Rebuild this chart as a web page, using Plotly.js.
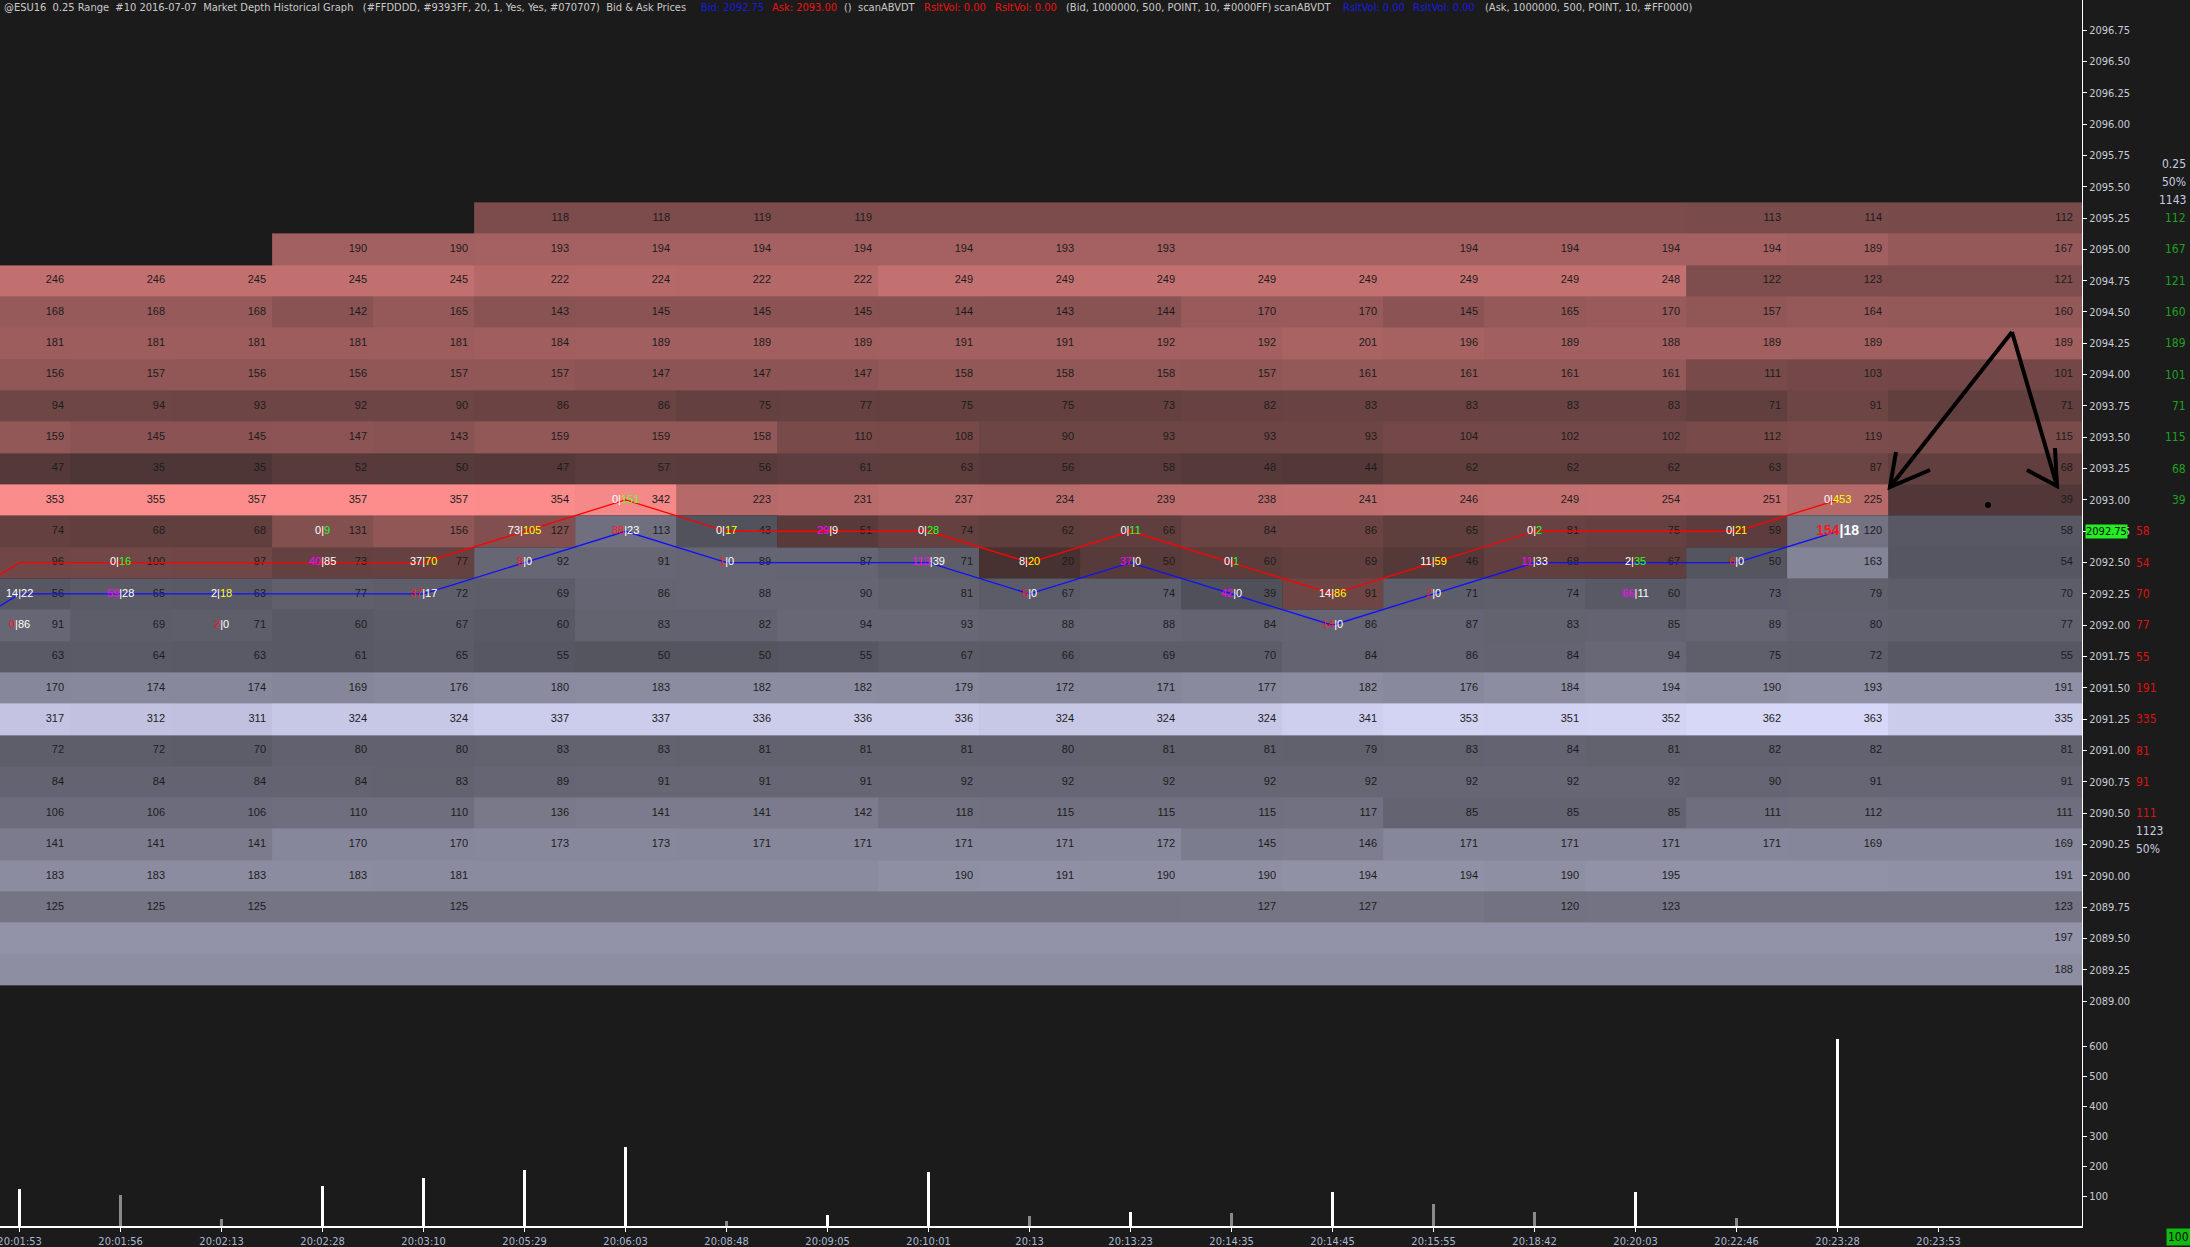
<!DOCTYPE html>
<html><head><meta charset="utf-8">
<script src="https://cdn.plot.ly/plotly-3.0.1.min.js"></script>
<style>html,body{margin:0;padding:0;background:#1b1b1b;overflow:hidden}</style>
</head><body><div id="chart" style="width:2190px;height:1247px"></div>
<script>
// ---------------- DATA ----------------
const timeLabels = ["20:01:53","20:01:56","20:02:13","20:02:28","20:03:10","20:05:29","20:06:03","20:08:48","20:09:05","20:10:01","20:13","20:13:23","20:14:35","20:14:45","20:15:55","20:18:42","20:20:03","20:22:46","20:23:28","20:23:53"];

// price levels, top to bottom
const priceLevels = [2095.25,2095.00,2094.75,2094.50,2094.25,2094.00,2093.75,2093.50,2093.25,2093.00,2092.75,2092.50,2092.25,2092.00,2091.75,2091.50,2091.25,2091.00,2090.75,2090.50,2090.25,2090.00,2089.75,2089.50,2089.25];

// first column where each price level has a depth cell
const rowStartCol = [5,3,0,0,0,0,0,0,0,0,0,0,0,0,0,0,0,0,0,0,0,0,0,0,0];

// market depth per level: 19 bars + current column; null = no number printed
const d209525 = [null,null,null,null,null,118,118,119,119,null,null,null,null,null,null,null,null,113,114,112];
const d209500 = [null,null,null,190,190,193,194,194,194,194,193,193,null,null,194,194,194,194,189,167];
const d209475 = [246,246,245,245,245,222,224,222,222,249,249,249,249,249,249,249,248,122,123,121];
const d209450 = [168,168,168,142,165,143,145,145,145,144,143,144,170,170,145,165,170,157,164,160];
const d209425 = [181,181,181,181,181,184,189,189,189,191,191,192,192,201,196,189,188,189,189,189];
const d209400 = [156,157,156,156,157,157,147,147,147,158,158,158,157,161,161,161,161,111,103,101];
const d209375 = [94,94,93,92,90,86,86,75,77,75,75,73,82,83,83,83,83,71,91,71];
const d209350 = [159,145,145,147,143,159,159,158,110,108,90,93,93,93,104,102,102,112,119,115];
const d209325 = [47,35,35,52,50,47,57,56,61,63,56,58,48,44,62,62,62,63,87,68];
const d209300 = [353,355,357,357,357,354,342,223,231,237,234,239,238,241,246,249,254,251,225,39];
const d209275 = [74,68,68,131,156,127,113,43,51,74,62,66,84,86,65,81,75,59,120,58];
const d209250 = [96,100,97,73,77,92,91,89,87,71,20,50,60,69,46,68,67,50,163,54];
const d209225 = [56,65,63,77,72,69,86,88,90,81,67,74,39,91,71,74,60,73,79,70];
const d209200 = [91,69,71,60,67,60,83,82,94,93,88,88,84,86,87,83,85,89,80,77];
const d209175 = [63,64,63,61,65,55,50,50,55,67,66,69,70,84,86,84,94,75,72,55];
const d209150 = [170,174,174,169,176,180,183,182,182,179,172,171,177,182,176,184,194,190,193,191];
const d209125 = [317,312,311,324,324,337,337,336,336,336,324,324,324,341,353,351,352,362,363,335];
const d209100 = [72,72,70,80,80,83,83,81,81,81,80,81,81,79,83,84,81,82,82,81];
const d209075 = [84,84,84,84,83,89,91,91,91,92,92,92,92,92,92,92,92,90,91,91];
const d209050 = [106,106,106,110,110,136,141,141,142,118,115,115,115,117,85,85,85,111,112,111];
const d209025 = [141,141,141,170,170,173,173,171,171,171,171,172,145,146,171,171,171,171,169,169];
const d209000 = [183,183,183,183,181,null,null,null,null,190,191,190,190,194,194,190,195,null,null,191];
const d208975 = [125,125,125,null,125,null,null,null,null,null,null,null,127,127,null,120,123,null,null,123];
const d208950 = [null,null,null,null,null,null,null,null,null,null,null,null,null,null,null,null,null,null,null,197];
const d208925 = [null,null,null,null,null,null,null,null,null,null,null,null,null,null,null,null,null,null,null,188];
const depthRows = [d209525,d209500,d209475,d209450,d209425,d209400,d209375,d209350,d209325,d209300,d209275,d209250,d209225,d209200,d209175,d209150,d209125,d209100,d209075,d209050,d209025,d209000,d208975,d208950,d208925];

// lowest price level on the ask side, per column
const askLowest = [2092.50,2092.50,2092.50,2092.50,2092.50,2092.75,2093.00,2093.00,2092.75,2092.75,2092.50,2092.50,2092.50,2092.25,2092.50,2092.50,2092.50,2092.75,2093.00,2093.00];

// ask / bid price lines (column -1 is the bar before the first visible one)
const lineCols = [-1,0,1,2,3,4,5,6,7,8,9,10,11,12,13,14,15,16,17,18];
const askPrices = [2092.00,2092.50,2092.50,2092.50,2092.50,2092.50,2092.75,2093.00,2092.75,2092.75,2092.75,2092.50,2092.75,2092.50,2092.25,2092.50,2092.75,2092.75,2092.75,2093.00];
const bidPrices = [2091.75,2092.25,2092.25,2092.25,2092.25,2092.25,2092.50,2092.75,2092.50,2092.50,2092.50,2092.25,2092.50,2092.25,2092.00,2092.25,2092.50,2092.50,2092.50,2092.75];

// volume per bar and its colour class
const volumes = [122,103,22,134,161,186,262,18,38,180,33,48,43,114,72,46,114,27,625];
const volumeBright = [1,0,0,1,1,1,1,0,1,1,0,1,0,1,0,0,1,0,1];

// traded volume at price: bid volume | ask volume
const tradeCol   = [0,0,1,1,2,2,3,3,4,4,5,5,6,6,7,7,8,9,9,10,10,11,11,12,12,13,13,14,14,15,15,16,16,17,17,18,18];
const tradePrice = [2092.25,2092.00,2092.50,2092.25,2092.25,2092.00,2092.75,2092.50,2092.50,2092.25,2092.75,2092.50,2093.00,2092.75,2092.75,2092.50,2092.75,2092.75,2092.50,2092.50,2092.25,2092.75,2092.50,2092.50,2092.25,2092.25,2092.00,2092.50,2092.25,2092.75,2092.50,2092.50,2092.25,2092.75,2092.50,2093.00,2092.75];
const tradeBidVol = [14,0,0,59,2,2,0,40,37,37,73,8,0,88,0,1,29,0,113,8,5,0,37,0,42,14,14,11,2,0,11,2,66,0,6,0,154];
const tradeAskVol = [22,86,16,28,18,0,9,85,70,17,105,0,151,23,17,0,9,28,39,20,0,11,0,1,0,86,0,59,0,2,33,35,11,21,0,453,18];
const tradeBidColor = ["#ffffff","#ff1a1a","#ffffff","#ff00ff","#ffffff","#ff1a1a","#ffffff","#ff00ff","#ffffff","#ff1a1a","#ffffff","#ff1a1a","#ffffff","#ff1a1a","#ffffff","#ff1a1a","#ff00ff","#ffffff","#ff00ff","#ffffff","#ff1a1a","#ffffff","#ff00ff","#ffffff","#ff00ff","#ffffff","#ff1a1a","#ffffff","#ff1a1a","#ffffff","#ff00ff","#ffffff","#ff00ff","#ffffff","#ff1a1a","#ffffff","#ff1a1a"];
const tradeAskColor = ["#ffffff","#ffffff","#22ff22","#ffffff","#ffff00","#ffffff","#22ff22","#ffffff","#ffff00","#ffffff","#ffff00","#ffffff","#66ff22","#ffffff","#ffff00","#ffffff","#ffffff","#22ff22","#ffffff","#ffff00","#ffffff","#22ff22","#ffffff","#22ff22","#ffffff","#ffff00","#ffffff","#ffff00","#ffffff","#22ff22","#ffffff","#22ff22","#ffffff","#ffff00","#ffffff","#ffff00","#ffffff"];

const tickSize = 0.25;
const currentBid = 2092.75, currentAsk = 2093.00;
const domLevels = 10;

// ---------------- LAYOUT CONSTANTS ----------------
const W = 2190, H = 1247;
const M = {l:0, r:108, t:0, b:21};
const PW = W - M.l - M.r, PH = H - M.t - M.b;
const nCols = timeLabels.length;
const xRange = [-0.194, 20.42];
const pxX = px => px / PW;            // paper x from pixel
const pxY = py => 1 - py / PH;        // paper y from pixel
const condensed = '"DejaVu Sans Condensed","Liberation Sans Narrow","Roboto Condensed","Open Sans Condensed","Liberation Sans",sans-serif';
const cellFont = '"Liberation Sans","DejaVu Sans",sans-serif';

// ---------------- BUILD ----------------
const yAsc = priceLevels.slice().reverse();
const zAsk = [], zBid = [];
const cellX = [], cellY = [], cellT = [];
yAsc.forEach((p) => {
  const r = priceLevels.indexOf(p);
  const row = depthRows[r];
  const ra = [], rb = [];
  for (let c = 0; c < nCols; c++) {
    let v = null;
    if (c >= rowStartCol[r]) {
      v = row[c];
      if (v === null) { // unprinted level: shade with nearest printed depth (left, then right)
        for (let k = c - 1; k >= rowStartCol[r] && v === null; k--) v = row[k];
        for (let k = c + 1; k < nCols && v === null; k++) v = row[k];
      }
    }
    const isAsk = p >= askLowest[c];
    ra.push(isAsk ? v : null);
    rb.push(isAsk ? null : v);
    if (row[c] !== null && c >= rowStartCol[r]) {
      cellX.push(c === nCols - 1 ? 20.33 : c + 0.44);
      cellY.push(p);
      cellT.push(String(row[c]));
    }
  }
  zAsk.push(ra); zBid.push(rb);
});
const xEdges = [];
for (let c = 0; c < nCols; c++) xEdges.push(c - 0.5);
xEdges.push(21);

const traces = [];
const hmCommon = {type:'heatmap', x:xEdges, y:yAsc, zsmooth:false, showscale:false, hoverinfo:'skip', xaxis:'x', yaxis:'y'};
traces.push(Object.assign({}, hmCommon, {z:zAsk, zmin:0, zmax:360, colorscale:[[0,'rgb(60,44,44)'],[1,'rgb(255,142,142)']]}));
traces.push(Object.assign({}, hmCommon, {z:zBid, zmin:0, zmax:370, colorscale:[[0,'rgb(64,64,72)'],[1,'rgb(218,218,252)']]}));

traces.push({type:'scatter', mode:'text', x:cellX, y:cellY, text:cellT, textposition:'middle left',
  textfont:{family:cellFont, size:11, color:'#1c1c1c'}, hoverinfo:'skip', xaxis:'x', yaxis:'y', cliponaxis:false});

traces.push({type:'scatter', mode:'lines', x:lineCols, y:askPrices, line:{color:'#ff0000', width:1.3}, hoverinfo:'skip', xaxis:'x', yaxis:'y'});
traces.push({type:'scatter', mode:'lines', x:lineCols, y:bidPrices, line:{color:'#1010ff', width:1.3}, hoverinfo:'skip', xaxis:'x', yaxis:'y'});

const tX = [], tY = [], tT = [], lastCol = Math.max(...tradeCol);
const bX = [], bY = [], bT = [];
tradeCol.forEach((c, i) => {
  const s = '<span style="color:' + tradeBidColor[i] + '">' + tradeBidVol[i] + '</span><span style="color:#ffffff">|</span><span style="color:' + tradeAskColor[i] + '">' + tradeAskVol[i] + '</span>';
  if (c === lastCol && tradePrice[i] === currentBid) { bX.push(c); bY.push(tradePrice[i]); bT.push('<b>' + s + '</b>'); }
  else { tX.push(c); tY.push(tradePrice[i]); tT.push(s); }
});
traces.push({type:'scatter', mode:'text', x:tX, y:tY, text:tT, textposition:'middle center',
  textfont:{family:cellFont, size:11, color:'#ffffff'}, hoverinfo:'skip', xaxis:'x', yaxis:'y'});
traces.push({type:'scatter', mode:'text', x:bX, y:bY, text:bT, textposition:'middle center',
  textfont:{family:cellFont, size:14, color:'#ffffff'}, hoverinfo:'skip', xaxis:'x', yaxis:'y'});

traces.push({type:'bar', x:volumes.map((v,i)=>i), y:volumes, width:0.022,
  marker:{color:volumeBright.map(b => b ? '#ffffff' : '#8a8a8a'), line:{width:0}},
  hoverinfo:'skip', xaxis:'x', yaxis:'y2'});

// ---------------- ANNOTATIONS ----------------
const ann = [];
const hdrFont = (c) => ({family:condensed, size:11, color:c});
const grey = '#c9c9c9';
const headerParts = [
  [2,   '@ESU16\u00a0\u00a00.25 Range\u00a0\u00a0#10 2016-07-07\u00a0\u00a0Market Depth Historical Graph\u00a0\u00a0\u00a0(#FFDDDD, #9393FF, 20, 1, Yes, Yes, #070707)\u00a0\u00a0Bid & Ask Prices', grey],
  [699, 'Bid: ' + currentBid.toFixed(2), '#1a1ae0'],
  [770, 'Ask: ' + currentAsk.toFixed(2), '#ee1111'],
  [842, '()', grey],
  [856, 'scanABVDT', grey],
  [922, 'RsltVol: 0.00', '#ee1111'],
  [993, 'RsltVol: 0.00', '#ee1111'],
  [1064,'(Bid, 1000000, 500, POINT, 10, #0000FF)', grey],
  [1272,'scanABVDT', grey],
  [1341,'RsltVol: 0.00', '#1a1ae0'],
  [1411,'RsltVol: 0.00', '#1a1ae0'],
  [1483,'(Ask, 1000000, 500, POINT, 10, #FF0000)', grey]
];
headerParts.forEach(([px, t, c]) => ann.push({xref:'paper', yref:'paper', x:pxX(px), y:pxY(8), xanchor:'left', yanchor:'middle', text:t, showarrow:false, font:hdrFont(c)}));

// DOM summary on the right
const finalCol = nCols - 1;
const askLv = [], bidLv = [];
priceLevels.forEach((p, r) => { const v = depthRows[r][finalCol]; if (v === null) return; if (p >= askLowest[finalCol]) askLv.push([p, v]); else bidLv.push([p, v]); });
const askTop = askLv.sort((a,b)=>a[0]-b[0]).slice(0, domLevels);
const bidTop = bidLv.sort((a,b)=>b[0]-a[0]).slice(0, domLevels);
const askSum = askTop.reduce((s,a)=>s+a[1],0), bidSum = bidTop.reduce((s,a)=>s+a[1],0);
askTop.forEach(([p,v]) => ann.push({xref:'paper', yref:'y', x:pxX(2188), y:p, xanchor:'right', yanchor:'middle', text:String(v), showarrow:false, font:{family:condensed, size:12, color:'#1fa01f'}}));
bidTop.forEach(([p,v]) => ann.push({xref:'paper', yref:'y', x:pxX(2134), y:p, xanchor:'left', yanchor:'middle', text:String(v), showarrow:false, font:{family:condensed, size:12, color:'#dd1111'}}));
const light = '#c8cde0';
[[164, tickSize.toFixed(2)], [182, Math.round(100*askSum/(askSum+bidSum)) + '%'], [200, String(askSum)]].forEach(([py,t]) =>
  ann.push({xref:'paper', yref:'paper', x:pxX(2188), y:pxY(py), xanchor:'right', yanchor:'middle', text:t, showarrow:false, font:{family:condensed, size:12, color:light}}));
[[831, String(bidSum)], [849, Math.round(100*bidSum/(askSum+bidSum)) + '%']].forEach(([py,t]) =>
  ann.push({xref:'paper', yref:'paper', x:pxX(2134), y:pxY(py), xanchor:'left', yanchor:'middle', text:t, showarrow:false, font:{family:condensed, size:12, color:light}}));

// current bid price highlight on the axis
ann.push({xref:'paper', yref:'y', x:pxX(2085), y:currentBid, xanchor:'left', yanchor:'middle', text:currentBid.toFixed(2), showarrow:false,
  bgcolor:'#22ee22', borderpad:0, font:{family:condensed, size:11, color:'#0c0c0c'}});
// green marker at bottom right
ann.push({xref:'paper', yref:'paper', x:pxX(2166), y:pxY(1237), xanchor:'left', yanchor:'middle', text:'100', showarrow:false,
  bgcolor:'#11bb11', borderpad:1, font:{family:condensed, size:12, color:'#0c0c0c'}});

// hand-drawn arrows (paper coordinates from pixels)
const P = (x,y) => pxX(x).toFixed(5) + ',' + pxY(y).toFixed(5);
const arrowPath = 'M' + P(2012,332) + 'L' + P(1890,487) + 'M' + P(1896,452) + 'L' + P(1890,487) + 'L' + P(1930,470) +
  'M' + P(2012,332) + 'L' + P(2057,486) + 'M' + P(2055,448) + 'L' + P(2057,486) + 'L' + P(2027,470);
const shapes = [
  {type:'path', xref:'paper', yref:'paper', path:arrowPath, line:{color:'#000000', width:4}},
  {type:'circle', xref:'paper', yref:'paper', x0:pxX(1985), x1:pxX(1991), y0:pxY(502), y1:pxY(508), fillcolor:'#000', line:{width:0}}
];

const axFont = {family:condensed, size:11, color:'#c8ccd4'};
const layout = {
  width:W, height:H, margin:M, paper_bgcolor:'#1b1b1b', plot_bgcolor:'#1b1b1b', showlegend:false,
  bargap:0,
  xaxis:{domain:[0,1], range:xRange, anchor:'y2', tickmode:'array', tickvals:timeLabels.map((t,i)=>i), ticktext:timeLabels,
    ticks:'outside', ticklen:4, tickwidth:1, tickcolor:'#ffffff', showline:true, linecolor:'#ffffff', linewidth:2,
    showgrid:false, zeroline:false, tickfont:{family:condensed, size:11, color:'#a9b8cf'}, ticklabeloverflow:'allow', fixedrange:true},
  yaxis:{domain:[0.164,1], range:[2088.81, 2096.99], side:'right', anchor:'x', tick0:2089, dtick:tickSize, tickformat:'.2f',
    ticks:'outside', ticklen:4, tickcolor:'#ffffff', showline:true, linecolor:'#ffffff', linewidth:1,
    showgrid:false, zeroline:false, tickfont:axFont, fixedrange:true},
  yaxis2:{domain:[0,0.164], range:[0,671], side:'right', anchor:'x', tickmode:'array', tickvals:[100,200,300,400,500,600],
    ticks:'outside', ticklen:4, tickcolor:'#ffffff', showline:true, linecolor:'#ffffff', linewidth:1,
    showgrid:false, zeroline:false, tickfont:axFont, fixedrange:true},
  annotations:ann, shapes:shapes
};
Plotly.newPlot('chart', traces, layout, {staticPlot:true, displayModeBar:false});
</script></body></html>
